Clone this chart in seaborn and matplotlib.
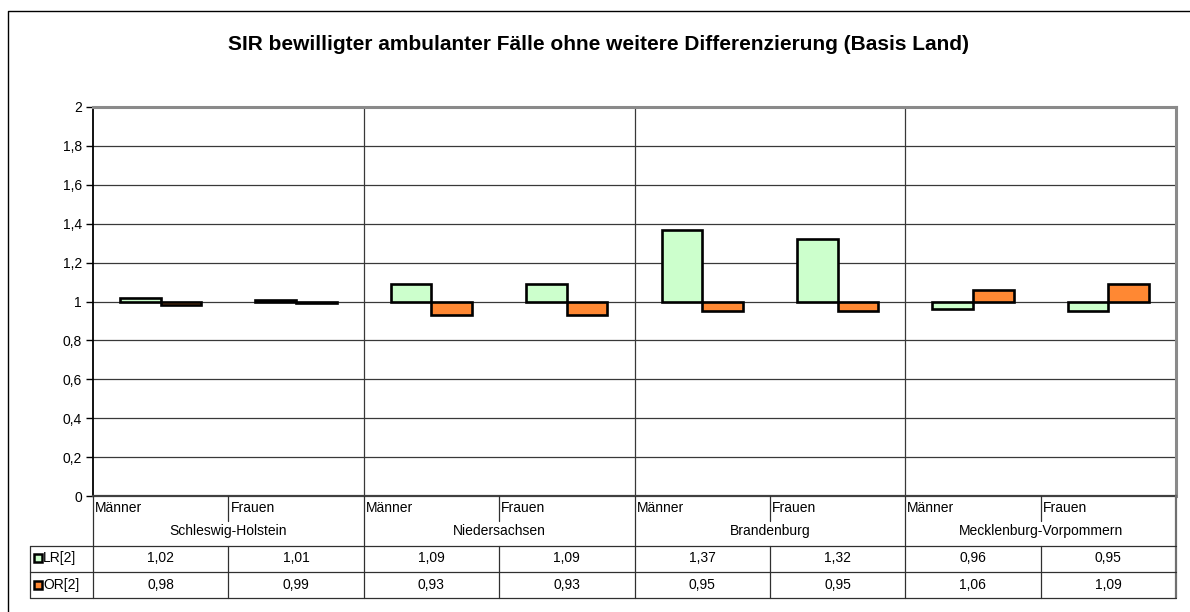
import matplotlib
matplotlib.use("Agg")
import matplotlib.pyplot as plt
import seaborn as sns
import pandas as pd
from matplotlib.transforms import blended_transform_factory, offset_copy
from matplotlib.lines import Line2D

# ---------------- data ----------------
title = "SIR bewilligter ambulanter Fälle ohne weitere Differenzierung (Basis Land)"
states = ["Schleswig-Holstein", "Niedersachsen", "Brandenburg", "Mecklenburg-Vorpommern"]
sexes = ["Männer", "Frauen"]
series = ["LR[2]", "OR[2]"]
lr_values = [1.02, 1.01, 1.09, 1.09, 1.37, 1.32, 0.96, 0.95]
or_values = [0.98, 0.99, 0.93, 0.93, 0.95, 0.95, 1.06, 1.09]
y_ticks = [0, 0.2, 0.4, 0.6, 0.8, 1.0, 1.2, 1.4, 1.6, 1.8, 2.0]
baseline = 1.0
colors = {"LR[2]": "#CCFFCC", "OR[2]": "#FF8833"}

# ---------------- frame ----------------
sns.set_theme(style="white")
plt.rcParams["font.family"] = ["Liberation Sans", "DejaVu Sans"]

W, H = 1190, 612
fx = lambda px: px / W
fy = lambda py: 1 - py / H

cats = [f"{s}|{x}" for s in states for x in sexes]
rows = []
for i, c in enumerate(cats):
    rows.append(dict(cat=c, series=series[0], value=lr_values[i]))
    rows.append(dict(cat=c, series=series[1], value=or_values[i]))
df = pd.DataFrame(rows)
df["dev"] = df["value"] - baseline

fig = plt.figure(figsize=(W / 100, H / 100), dpi=100)
fig.patch.set_facecolor("white")
ax = fig.add_axes([fx(93), fy(496), fx(1176) - fx(93), fy(107) - fy(496)])

sns.barplot(data=df, x="cat", y="dev", hue="series", order=cats, hue_order=series,
            palette=colors, width=0.6, gap=0, edgecolor="black", linewidth=1.9,
            saturation=1, bottom=baseline, errorbar=None, legend=False, ax=ax,
            zorder=3)

ax.set_xlim(-0.5, len(cats) - 0.5)
ax.set_ylim(0, 2)
ax.set_yticks(y_ticks)
ax.set_yticklabels([f"{t:g}".replace(".", ",") for t in y_ticks])
ax.set_xticks([])
ax.set_xlabel("")
ax.set_ylabel("")
ax.yaxis.grid(True, color="#383838", lw=0.9)
ax.set_axisbelow(True)
ax.tick_params(axis="y", left=True, direction="out", length=5, width=1,
               color="black", labelsize=10, pad=3, labelcolor="black")

for sp in ["top", "right"]:
    ax.spines[sp].set_color("#8a8a8a")
    ax.spines[sp].set_linewidth(2.2)
ax.spines["left"].set_color("black")
ax.spines["left"].set_linewidth(1.3)
ax.spines["bottom"].set_color("#404040")
ax.spines["bottom"].set_linewidth(1.6)

# group separators in plot area
for g in range(1, len(states)):
    ax.axvline(2 * g - 0.5, color="#383838", lw=0.9, zorder=1)

fig.text(fx(599), fy(45), title, ha="center", va="center",
         fontsize=15, fontweight="bold", color="black")

# ---------------- data table ----------------
bt = blended_transform_factory(ax.transData, fig.transFigure)
lc = "#303030"

def vline(x, y0, y1, color=lc, lw=0.9):
    fig.add_artist(Line2D([x, x], [fy(y0), fy(y1)], transform=bt,
                          color=color, lw=lw))

def hline(y, x0px, x1px):
    fig.add_artist(Line2D([fx(x0px), fx(x1px)], [fy(y), fy(y)],
                          transform=fig.transFigure, color=lc, lw=0.9))

n = len(cats)
vline(-0.5, 496, 598)
for g in range(1, len(states)):
    vline(2 * g - 0.5, 496, 598)
vline(n - 0.5, 496, 598, color="#707070", lw=1.6)
for g in range(len(states)):
    vline(2 * g + 0.5, 496, 521)
    vline(2 * g + 0.5, 546, 598)
for y in [546, 572, 598]:
    hline(y, 30, 1176)
fig.add_artist(Line2D([fx(30), fx(30)], [fy(546), fy(598)],
                      transform=fig.transFigure, color=lc, lw=0.9))

# sex labels (left aligned at category edge)
bt_off = offset_copy(bt, fig=fig, x=2, y=0, units="dots")
for i, c in enumerate(cats):
    sex = c.split("|")[1]
    fig.text(i - 0.5, fy(508), sex, transform=bt_off, ha="left", va="center",
             fontsize=10, color="black")
# state labels
for g, s in enumerate(states):
    fig.text(2 * g + 0.5, fy(531), s, transform=bt, ha="center", va="center",
             fontsize=10, color="black")

# values
for vals, ypx in [(lr_values, 558), (or_values, 585)]:
    for i, v in enumerate(vals):
        fig.text(i, fy(ypx), f"{v:.2f}".replace(".", ","), transform=bt,
                 ha="center", va="center", fontsize=10, color="black")

# legend keys in table
for name, ypx in [(series[0], 558), (series[1], 585)]:
    fig.add_artist(Line2D([fx(37.5)], [fy(ypx)], transform=fig.transFigure,
                          marker="s", markersize=6, markerfacecolor=colors[name],
                          markeredgecolor="black", markeredgewidth=1.8, lw=0))
    fig.text(fx(43), fy(ypx), name, ha="left", va="center", fontsize=10,
             color="black")

# outer chart frame
fig.add_artist(Line2D([fx(8), fx(8), 1.0], [0.0, fy(11), fy(11)],
                      transform=fig.transFigure, color="black", lw=1.0))

fig.savefig("out.png", dpi=100, facecolor="white")
